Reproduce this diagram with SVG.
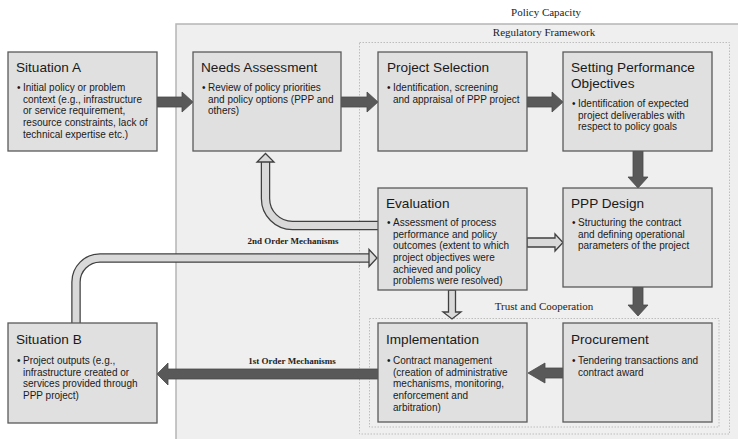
<svg xmlns="http://www.w3.org/2000/svg" width="738" height="439" viewBox="0 0 738 439">
<defs>
<style>
.cap{font-family:"Liberation Serif","Times New Roman",serif;font-size:11px;fill:#222;text-anchor:middle}
.mech{font-family:"Liberation Serif","Times New Roman",serif;font-size:9px;font-weight:bold;fill:#222;text-anchor:middle}
.box{fill:#e0e0e0;stroke:#5a5a5a;stroke-width:1.3}
.title{font-family:"Liberation Sans",Arial,sans-serif;font-size:13.6px;fill:#1a1a1a}
.body{font-family:"Liberation Sans",Arial,sans-serif;font-size:10px;fill:#1a1a1a}
.dark{fill:#595959;stroke:#4a4a4a;stroke-width:0.8}
.hol{fill:#d9d9d9;stroke:#404040;stroke-width:1.3;stroke-linejoin:miter}
</style>
</defs>
<rect x="0" y="0" width="738" height="439" fill="#ffffff"/>
<g id="containers">
<rect x="176" y="24" width="570" height="420" fill="#efefef" stroke="#b5b5b5" stroke-width="1.5"/>
<rect x="359.5" y="42.5" width="370" height="391.5" fill="none" stroke="#bdbdbd" stroke-width="1" stroke-dasharray="1.5,1.5"/>
<rect x="369.5" y="318.5" width="349.5" height="108.5" fill="none" stroke="#bdbdbd" stroke-width="1" stroke-dasharray="1.5,1.5"/>
<text class="cap" x="546" y="16">Policy Capacity</text>
<text class="cap" x="544" y="36">Regulatory Framework</text>
<text class="cap" x="544" y="310">Trust and Cooperation</text>
</g>
<g id="connectors">
<polygon class="dark" points="157,97 182,97 182,92 193,102 182,112 182,107 157,107"/>
<polygon class="dark" points="341,97 367,97 367,92 378,102 367,112 367,107 341,107"/>
<polygon class="dark" points="527,97 552,97 552,92 563,102 552,112 552,107 527,107"/>
<polygon class="dark" points="633,151 643,151 643,177 648,177 638,188 628,177 633,177"/>
<polygon class="dark" points="633,287 643,287 643,305 648,305 638,316 628,305 633,305"/>
<polygon class="dark" points="563,368 545,368 545,363 528,373 545,383 545,378 563,378"/>
<polygon class="dark" points="378,369 168,369 168,363 157,374 168,385 168,379 378,379"/>
<path d="M378 225.5 H292.5 A27 27 0 0 1 265.5 198.5 V161" fill="none" stroke="#404040" stroke-width="9.5"/>
<path d="M379 225.5 H292.5 A27 27 0 0 1 265.5 198.5 V160" fill="none" stroke="#d9d9d9" stroke-width="7"/>
<polygon class="hol" points="257,162 274,162 265.5,153.5"/>
<path d="M76 324 V282 A24 24 0 0 1 100 258 H370" fill="none" stroke="#404040" stroke-width="9.5"/>
<path d="M76 325 V282 A24 24 0 0 1 100 258 H371" fill="none" stroke="#d9d9d9" stroke-width="7"/>
<polygon class="hol" points="369,249.5 369,266.5 377,258"/>
<polygon class="hol" points="527,238 555,238 555,234 563,242.5 555,251 555,247 527,247"/>
<polygon class="hol" points="448.5,290 455.5,290 455.5,312 461,312 452,319 443,312 448.5,312"/>
<text class="mech" x="293" y="244">2nd Order Mechanisms</text>
<text class="mech" x="292" y="364">1st Order Mechanisms</text>
</g>
<g id="situation-a">
<rect class="box" x="8" y="52" width="149" height="99"/>
<text class="title" x="16" y="72">Situation A</text>
<text class="body" x="17" y="91">•</text>
<text class="body"><tspan x="23" y="91">Initial policy or problem</tspan><tspan x="23" y="102.7">context (e.g., infrastructure</tspan><tspan x="23" y="114.3">or service requirement,</tspan><tspan x="23" y="126">resource constraints, lack of</tspan><tspan x="23" y="137.7">technical expertise etc.)</tspan></text>
</g>
<g id="needs-assessment">
<rect class="box" x="193" y="52" width="148" height="99"/>
<text class="title" x="201" y="72">Needs Assessment</text>
<text class="body" x="202" y="91">•</text>
<text class="body"><tspan x="208" y="91">Review of policy priorities</tspan><tspan x="208" y="102.7">and policy options (PPP and</tspan><tspan x="208" y="114.3">others)</tspan></text>
</g>
<g id="project-selection">
<rect class="box" x="378" y="52" width="149" height="99"/>
<text class="title" x="387" y="72">Project Selection</text>
<text class="body" x="387" y="91">•</text>
<text class="body"><tspan x="393" y="91">Identification, screening</tspan><tspan x="393" y="102.7">and appraisal of PPP project</tspan></text>
</g>
<g id="setting-performance-objectives">
<rect class="box" x="563" y="52" width="149" height="99"/>
<text class="title"><tspan x="571" y="72">Setting Performance</tspan><tspan x="571" y="88">Objectives</tspan></text>
<text class="body" x="572" y="107">•</text>
<text class="body"><tspan x="578" y="107">Identification of expected</tspan><tspan x="578" y="118.7">project deliverables with</tspan><tspan x="578" y="130.3">respect to policy goals</tspan></text>
</g>
<g id="evaluation">
<rect class="box" x="378" y="188" width="149" height="102"/>
<text class="title" x="386" y="208">Evaluation</text>
<text class="body" x="387" y="226">•</text>
<text class="body"><tspan x="393" y="226">Assessment of process</tspan><tspan x="393" y="237.7">performance and policy</tspan><tspan x="393" y="249.3">outcomes (extent to which</tspan><tspan x="393" y="261">project objectives were</tspan><tspan x="393" y="272.7">achieved and policy</tspan><tspan x="393" y="284.3">problems were resolved)</tspan></text>
</g>
<g id="ppp-design">
<rect class="box" x="563" y="188" width="149" height="99"/>
<text class="title" x="571" y="208">PPP Design</text>
<text class="body" x="572" y="226">•</text>
<text class="body"><tspan x="578" y="226">Structuring the contract</tspan><tspan x="578" y="237.7">and defining operational</tspan><tspan x="578" y="249.3">parameters of the project</tspan></text>
</g>
<g id="situation-b">
<rect class="box" x="8" y="323" width="149" height="100"/>
<text class="title" x="16" y="344">Situation B</text>
<text class="body" x="17" y="364">•</text>
<text class="body"><tspan x="23" y="364">Project outputs (e.g.,</tspan><tspan x="23" y="375.7">infrastructure created or</tspan><tspan x="23" y="387.3">services provided through</tspan><tspan x="23" y="399">PPP project)</tspan></text>
</g>
<g id="implementation">
<rect class="box" x="378" y="323" width="149" height="99"/>
<text class="title" x="386" y="344">Implementation</text>
<text class="body" x="387" y="364">•</text>
<text class="body"><tspan x="393" y="364">Contract management</tspan><tspan x="393" y="375.7">(creation of administrative</tspan><tspan x="393" y="387.3">mechanisms, monitoring,</tspan><tspan x="393" y="399">enforcement and</tspan><tspan x="393" y="410.7">arbitration)</tspan></text>
</g>
<g id="procurement">
<rect class="box" x="563" y="323" width="149" height="99"/>
<text class="title" x="571" y="344">Procurement</text>
<text class="body" x="572" y="364">•</text>
<text class="body"><tspan x="578" y="364">Tendering transactions and</tspan><tspan x="578" y="375.7">contract award</tspan></text>
</g>
</svg>
